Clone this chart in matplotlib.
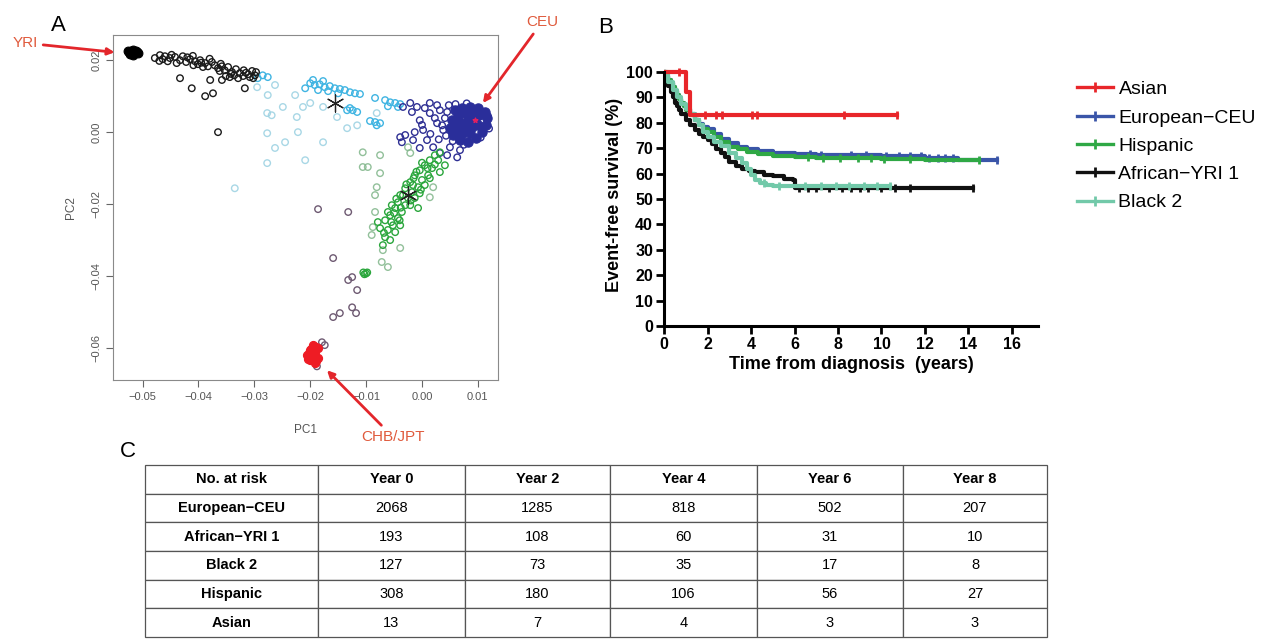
import numpy as np
import matplotlib
matplotlib.use("Agg")
from matplotlib import pyplot as plt
from matplotlib.lines import Line2D

plt.rcParams["font.family"] = ["Liberation Sans", "DejaVu Sans"]

# ---------------- Panel A data (PC1, PC2) in units of 1e-3 ----------------
yri_core = [(-52.5, 22.2), (-52.0, 22.5), (-51.5, 22.0), (-51.0, 22.3), (-52.2, 21.8),
            (-51.2, 22.6), (-51.8, 21.5), (-51.8, 22.9), (-52.6, 22.6), (-50.8, 21.9)]
african = [(-47.8, 20.6), (-46.9, 21.4), (-46.0, 21.1), (-45.1, 20.6), (-45.5, 19.7),
           (-44.2, 20.9), (-43.3, 20.0), (-42.8, 21.1), (-42.2, 19.5), (-41.5, 20.3),
           (-40.6, 19.7), (-40.1, 18.9), (-39.7, 20.0), (-38.8, 19.2), (-38.3, 18.3),
           (-37.6, 19.5), (-37.1, 18.6), (-36.5, 17.8), (-35.8, 18.3), (-35.3, 17.2),
           (-34.7, 18.1), (-34.0, 16.7), (-33.3, 17.5), (-32.6, 16.4), (-31.9, 17.2),
           (-31.1, 16.1), (-30.4, 17.0), (-29.9, 15.8), (-34.4, 15.3), (-32.9, 15.0),
           (-35.1, 15.6), (-30.8, 15.3), (-46.4, 20.3), (-43.9, 19.2), (-40.9, 18.6),
           (-39.2, 18.1), (-36.2, 17.0), (-33.6, 15.8), (-32.0, 15.6), (-29.7, 16.7),
           (-47.0, 19.8), (-44.8, 21.5), (-42.0, 20.8), (-38.0, 20.4), (-36.0, 19.0),
           (-34.2, 16.2), (-31.5, 16.5), (-30.2, 15.0), (-41.0, 21.2), (-39.5, 19.3),
           (-43.3, 15.0), (-41.2, 12.2), (-38.8, 10.0), (-37.4, 10.8), (-31.7, 12.2),
           (-35.8, 14.5), (-37.9, 14.5), (-36.5, 0.0)]
skyblue = [(-20.0, 13.6), (-19.2, 13.1), (-18.3, 13.3), (-17.4, 12.5), (-16.5, 12.8),
           (-15.6, 12.2), (-14.7, 12.0), (-13.8, 11.7), (-12.9, 11.1), (-12.0, 10.8),
           (-11.1, 10.6), (-18.6, 11.7), (-16.8, 11.4), (-20.9, 12.2), (-15.0, 10.8),
           (-19.5, 14.5), (-17.7, 14.2), (-28.5, 15.8), (-29.4, 15.0), (-27.6, 15.3),
           (-6.6, 8.9), (-5.7, 8.3), (-4.8, 8.1), (-3.9, 7.8), (-6.1, 7.2), (-4.3, 7.0),
           (-8.4, 9.5), (-13.4, 6.1), (-12.9, 6.7), (-12.4, 6.1), (-11.6, 5.6),
           (-9.3, 3.1), (-8.4, 2.8), (-7.5, 2.5), (-8.1, 1.9)]
paleblue = [(-29.5, 12.5), (-27.6, 10.3), (-26.3, 13.1), (-22.7, 10.3), (-21.3, 7.0),
            (-20.0, 8.1), (-24.9, 7.0), (-27.7, 5.3), (-26.9, 4.7), (-22.4, 4.2),
            (-15.2, 4.2), (-17.7, 7.0), (-27.7, -0.3), (-24.5, -2.8), (-26.3, -4.4),
            (-22.2, 0.0), (-17.7, -2.8), (-13.4, 1.1), (-11.6, 1.9), (-8.1, 5.3),
            (-27.7, -8.6), (-20.9, -7.8), (-33.5, -15.6)]
ceu_core = [(5.9, 6.1), (7.2, 6.7), (8.6, 7.0), (10.0, 6.7), (11.3, 5.6), (11.6, 3.9),
            (11.5, 1.9), (10.7, 0.0), (9.7, -1.7), (8.2, -2.8), (6.8, -2.2), (5.5, -0.8),
            (5.0, 1.1), (5.4, 3.3), (6.4, 4.7), (7.7, 5.3), (9.0, 5.0), (10.2, 4.7),
            (9.5, 3.3), (8.2, 3.3), (6.8, 2.8), (7.7, 1.1), (9.0, 1.4), (10.0, 1.9),
            (8.6, -0.3), (7.2, -0.6), (6.1, 1.1)]
european = [(4.1, 3.9), (3.6, 1.9), (4.5, 5.6), (3.2, 6.1), (2.3, 3.9), (2.7, 7.5),
            (1.4, 8.1), (0.5, 6.7), (-2.1, 8.1), (-0.9, 7.0), (-1.8, 5.6), (-0.4, 3.3),
            (-1.3, 0.0), (0.2, 0.6), (-1.6, -2.2), (-3.0, -0.8), (0.9, -2.2), (2.0, -4.2),
            (3.2, -5.8), (4.5, -6.4), (6.3, -7.0), (1.4, 5.3), (2.7, 2.5), (3.8, 0.6),
            (-3.6, -2.8), (-3.9, -1.4), (-0.4, -4.4), (5.0, -4.2), (6.8, -5.0), (-3.4, 7.0),
            (4.8, 7.5), (6.0, 7.8), (8.0, 8.0), (11.8, 4.5), (12.0, 1.0), (10.5, -1.5),
            (7.5, -3.5), (5.5, -2.5), (4.3, -1.0), (3.0, -2.0), (1.5, -0.5), (0.0, 2.0)]
hispanic = [(3.2, -5.6), (2.3, -6.4), (1.4, -7.8), (2.9, -7.8), (0.5, -9.2), (1.8, -10.0),
            (-0.4, -10.6), (1.1, -12.0), (-1.3, -12.0), (0.0, -13.3), (-2.1, -13.9),
            (-0.7, -15.3), (-3.0, -15.6), (-1.8, -16.7), (-3.9, -17.5), (-2.5, -18.3),
            (-1.3, -18.3), (-4.3, -19.5), (-3.0, -20.3), (-4.8, -21.1), (-3.6, -22.2),
            (-5.7, -23.1), (-4.3, -23.9), (-6.6, -24.5), (-5.2, -25.9), (-6.1, -27.2),
            (-4.8, -27.8), (-6.6, -29.2), (-7.5, -26.7), (-2.1, -20.3), (-0.4, -17.0),
            (0.5, -14.7), (1.4, -12.8), (4.1, -9.2), (3.2, -11.1), (-7.9, -25.0),
            (-3.9, -25.9), (-0.7, -21.1), (-1.6, -14.7), (-3.4, -17.5), (-5.4, -20.3),
            (-6.1, -22.2), (-7.0, -31.4), (-5.7, -30.0), (0.0, -8.5), (-1.0, -11.0),
            (2.3, -9.0), (-2.8, -14.5), (-0.2, -16.0), (-4.6, -18.5), (-2.0, -19.0),
            (-3.8, -21.0), (-5.0, -22.5), (-5.5, -25.0), (-6.8, -28.0), (-4.0, -24.5),
            (1.0, -10.0), (-1.5, -12.8), (-10.5, -39.0), (-10.0, -39.3), (-10.3, -39.5),
            (-9.8, -39.0)]
palegreen = [(-10.6, -5.6), (-7.5, -6.4), (-9.7, -9.7), (-10.6, -9.7), (-7.5, -11.4),
             (-8.1, -15.3), (-8.4, -17.5), (-8.4, -22.2), (-8.8, -26.4), (-9.0, -28.6),
             (-3.9, -32.2), (-7.0, -32.8), (-7.2, -36.1), (-6.1, -37.5), (-2.1, -5.8),
             (-2.5, -4.2), (1.4, -18.1), (2.0, -15.3)]
chb_core = [(-20.6, -62.0), (-20.0, -60.6), (-20.0, -63.4), (-19.5, -59.2), (-19.5, -62.0),
            (-19.2, -64.2), (-18.6, -60.0), (-18.6, -62.8), (-19.2, -61.2), (-20.3, -61.5),
            (-18.9, -63.5), (-19.8, -60.2), (-19.0, -59.8), (-20.4, -63.0)]
admixed = [(-18.6, -21.4), (-13.2, -22.2), (-15.9, -35.0), (-13.2, -41.1), (-12.5, -40.3),
           (-11.6, -43.9), (-12.5, -48.7), (-11.8, -50.3), (-14.7, -50.3), (-15.9, -51.4),
           (-18.8, -65.1), (-17.4, -59.2), (-17.9, -58.4)]
centroids = [(-15.6, 8.1), (-2.5, -17.5)]

# ---------------- Panel B data: Kaplan-Meier steps ----------------
asian_t = [0, 1.0, 1.2, 10.7]
asian_s = [100, 92.3, 83.0, 83.0]
asian_cens = [0.7, 1.89, 2.39, 2.65, 4.03, 4.26, 8.28, 10.73]

ceu_t = [0, 0.1, 0.2, 0.3, 0.4, 0.5, 0.6, 0.7, 0.8, 0.9, 1.0, 1.2, 1.4, 1.6, 1.8, 2.0, 2.3,
         2.6, 3.0, 3.4, 3.8, 4.3, 5.0, 6.0, 7.0, 8.5, 10.0, 12.0, 13.5, 15.3]
ceu_s = [100, 98.5, 97, 95.5, 94, 92.5, 91, 89.5, 88, 86.8, 85.5, 83.3, 81.3, 79.5, 78.5,
         77.5, 75.5, 73.5, 72, 70.5, 69.5, 68.8, 68.2, 67.8, 67.5, 67.2, 66.8, 66.3, 65.5, 65.5]
ceu_cens = [6.7, 7.2, 8.6, 9.3, 10.2, 10.8, 11.3, 11.8, 12.2, 12.6, 12.9, 13.3, 15.3]

hisp_t = [0, 0.1, 0.2, 0.3, 0.4, 0.5, 0.6, 0.7, 0.8, 0.9, 1.0, 1.2, 1.4, 1.6, 1.8, 2.0, 2.3,
          2.6, 3.0, 3.4, 3.8, 4.3, 5.0, 6.0, 7.0, 8.5, 10.0, 12.0, 14.5]
hisp_s = [100, 98.5, 97, 95.5, 94, 92.5, 91, 89.5, 88, 86.5, 85, 83, 81, 79, 77.5, 76.5,
          74.5, 72.5, 70.6, 69.5, 68.5, 67.8, 67, 66.5, 66.2, 66, 65.8, 65.5, 65.5]
hisp_cens = [6.6, 7.3, 8.1, 8.9, 9.5, 10.1, 11.3, 14.5]

yri_t = [0, 0.1, 0.2, 0.3, 0.4, 0.5, 0.6, 0.7, 0.8, 1.0, 1.2, 1.4, 1.6, 1.8, 2.0, 2.2, 2.4,
         2.6, 2.8, 3.0, 3.3, 3.6, 3.9, 4.2, 4.6, 5.0, 5.5, 5.95, 6.0, 14.2]
yri_s = [100, 97, 94.5, 92, 90, 88, 86.5, 85, 83.5, 81, 79, 77, 75.5, 74.5, 73.2, 71.5, 69.5,
         68, 66.5, 64.5, 63, 62, 61, 60.5, 59.5, 59, 58, 57.5, 54.5, 54.5]
yri_cens = [6.2, 6.6, 7.0, 7.6, 8.2, 8.6, 9.0, 9.4, 10.0, 10.6, 11.3, 14.2]

blk_t = [0, 0.2, 0.4, 0.6, 0.8, 1.0, 1.2, 1.4, 1.6, 1.8, 2.0, 2.3, 2.6, 3.0, 3.3, 3.6, 3.8,
         4.0, 4.2, 4.4, 4.7, 5.0, 10.4]
blk_s = [100, 96, 93, 90, 87.5, 85.5, 83.5, 81, 79, 76.5, 74.5, 72.5, 71, 68, 66, 64, 62,
         59.5, 57.5, 56.5, 55.5, 55, 55]
blk_cens = [4.6, 5.3, 6.5, 7.2, 7.9, 8.5, 9.2, 9.8, 10.4]

# ---------------- Panel C data ----------------
col_labels = ["No. at risk", "Year 0", "Year 2", "Year 4", "Year 6", "Year 8"]
row_labels = ["European\u2212CEU", "African\u2212YRI 1", "Black 2", "Hispanic", "Asian"]
at_risk = [[2068, 1285, 818, 502, 207],
           [193, 108, 60, 31, 10],
           [127, 73, 35, 17, 8],
           [308, 180, 106, 56, 27],
           [13, 7, 4, 3, 3]]

fig = plt.figure(figsize=(12.62, 6.39), dpi=100)

# ================= Panel A =================
axA = fig.add_axes([0.0895, 0.4053, 0.3051, 0.5399])


def pts(lst):
    a = np.array(lst) / 1000.0
    return a[:, 0], a[:, 1]


def ring(lst, color, s=22, lw=1.0, alpha=1.0):
    x, y = pts(lst)
    axA.scatter(x, y, s=s, facecolors="none", edgecolors=color, linewidths=lw, alpha=alpha)


def blob(lst, color, s=30):
    x, y = pts(lst)
    axA.scatter(x, y, s=s, facecolors=color, edgecolors=color, linewidths=0.8)


ring(paleblue, "#9fd3e3", alpha=0.9)
ring(palegreen, "#86b98f", alpha=0.9)
ring(admixed, "#6e5a72")
ring(skyblue, "#3fb4e2")
ring(african, "#1a1a1a")
blob(yri_core, "#000000", s=40)
ring(european, "#2e2f93")
blob(ceu_core, "#2a2e9a", s=45)
ring(hispanic, "#2aa63c")
blob(chb_core, "#ee1c24", s=34)
cx, cy = pts(centroids)
axA.scatter(cx, cy, marker=(6, 2, 0), s=150, color="#222222", linewidths=0.9)
axA.scatter([0.0095], [0.0033], marker="*", s=12, color="#e02060")

axA.set_xlim(-0.0553, 0.0136)
axA.set_ylim(-0.0689, 0.0270)
axA.set_xticks([-0.05, -0.04, -0.03, -0.02, -0.01, 0.00, 0.01])
axA.set_xticklabels(["\u22120.05", "\u22120.04", "\u22120.03", "\u22120.02", "\u22120.01", "0.00", "0.01"])
axA.set_yticks([0.02, 0.00, -0.02, -0.04, -0.06])
axA.set_yticklabels(["0.02", "0.00", "\u22120.02", "\u22120.04", "\u22120.06"], rotation=90, va="center")
axA.tick_params(labelsize=8, colors="#666666", labelcolor="#555555", length=5, width=0.8)
for sp in axA.spines.values():
    sp.set_color("#8a8a8a")
axA.set_xlabel("PC1", fontsize=8.5, color="#555555", labelpad=16)
axA.set_ylabel("PC2", fontsize=8.5, color="#555555", labelpad=10)

arrow = dict(arrowstyle="-|>", color="#e3262b", lw=2, mutation_scale=10, shrinkA=2, shrinkB=0)
axA.annotate("YRI", xy=(-0.0550, 0.0222), xycoords="data", xytext=(0.0198, 0.9327),
             textcoords="figure fraction", ha="center", va="center", fontsize=11,
             color="#e05a3c", arrowprops=arrow, annotation_clip=False)
axA.annotate("CEU", xy=(0.0109, 0.0081), xycoords="data", xytext=(0.4295, 0.9656),
             textcoords="figure fraction", ha="center", va="center", fontsize=11,
             color="#e05a3c", arrowprops=arrow, annotation_clip=False)
axA.annotate("CHB/JPT", xy=(-0.0170, -0.0662), xycoords="data", xytext=(0.3114, 0.3161),
             textcoords="figure fraction", ha="center", va="center", fontsize=11,
             color="#e05a3c", arrowprops=arrow, annotation_clip=False)
fig.text(0.046, 0.960, "A", fontsize=16, ha="center", va="center")

# ================= Panel B =================
axB = fig.add_axes([0.5262, 0.4898, 0.2963, 0.4094])
curves = [
    (asian_t, asian_s, asian_cens, "#e8262a", "Asian"),
    (ceu_t, ceu_s, ceu_cens, "#3a55a8", "European\u2212CEU"),
    (hisp_t, hisp_s, hisp_cens, "#2fa845", "Hispanic"),
    (yri_t, yri_s, yri_cens, "#111111", "African\u2212YRI 1"),
    (blk_t, blk_s, blk_cens, "#72c9a9", "Black 2"),
]
draw_order = [1, 2, 3, 4, 0]
for i in draw_order:
    t, s, cens, col, lab = curves[i]
    axB.step(t, s, where="post", color=col, lw=3.0)
    # step value at each censoring time
    cs = [s[np.searchsorted(t, c, side="right") - 1] for c in cens]
    axB.plot(cens, cs, linestyle="none", marker="|", markersize=6, mew=2, color=col)

axB.set_xlim(0, 17.2)
axB.set_ylim(0, 103)
axB.set_xticks(range(0, 17, 2))
axB.set_yticks(range(0, 101, 10))
axB.spines["top"].set_visible(False)
axB.spines["right"].set_visible(False)
axB.spines["left"].set_bounds(0, 100)
for sp in ("left", "bottom"):
    axB.spines[sp].set_linewidth(2.2)
axB.tick_params(length=6, width=2, labelsize=11.5, pad=2)
for lbl in axB.get_xticklabels() + axB.get_yticklabels():
    lbl.set_fontweight("bold")
axB.set_xlabel("Time from diagnosis  (years)", fontsize=13, fontweight="bold", labelpad=3)
axB.set_ylabel("Event-free survival (%)", fontsize=13, fontweight="bold", labelpad=2)

handles = [Line2D([0], [0], color=c[3], lw=2.4, marker="|", markersize=7, mew=2)
           for c in curves]
fig.legend(handles, [c[4] for c in curves], loc="upper left", bbox_to_anchor=(0.847, 0.886),
           frameon=False, fontsize=14, numpoints=1, handlelength=1.85, handletextpad=0.3,
           labelspacing=0.55, borderaxespad=0)
fig.text(0.480, 0.957, "B", fontsize=16, ha="center", va="center")

# ================= Panel C =================
axC = fig.add_axes([0.1149, 0.0031, 0.7147, 0.2692])
axC.axis("off")
cell_text = [[row_labels[i]] + [str(v) for v in at_risk[i]] for i in range(len(row_labels))]
col_w = np.array([173, 147, 145, 147, 146, 144], dtype=float)
col_w = col_w / col_w.sum()
tbl = axC.table(cellText=cell_text, colLabels=col_labels, colWidths=list(col_w),
                cellLoc="center", bbox=[0, 0, 1, 1])
tbl.auto_set_font_size(False)
for (r, c), cell in tbl.get_celld().items():
    cell.set_edgecolor("#555555")
    cell.set_linewidth(0.9)
    txt = cell.get_text()
    txt.set_fontsize(10.5)
    txt.set_family(["Liberation Sans Narrow", "Liberation Sans", "DejaVu Sans"])
    if r == 0 or c == 0:
        txt.set_fontweight("bold")
fig.text(0.1015, 0.293, "C", fontsize=16, ha="center", va="center")

plt.savefig("out.png", dpi=100)
